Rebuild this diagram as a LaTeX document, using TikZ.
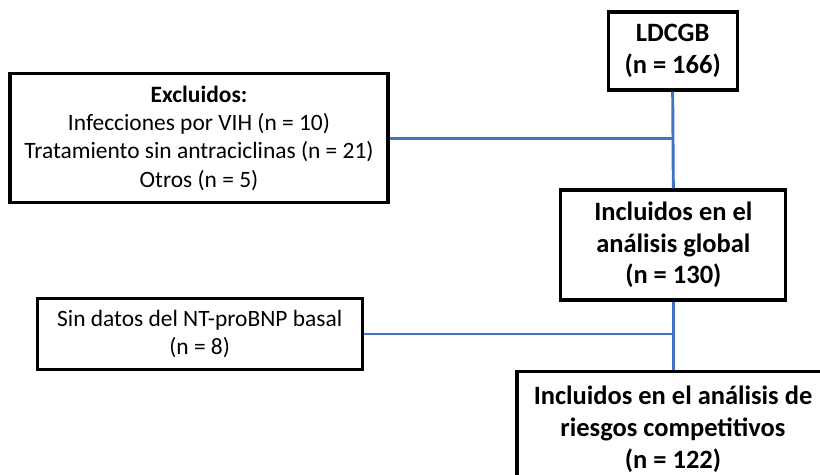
\documentclass[tikz,border=0pt]{standalone}
\usepackage{fontspec}
\setmainfont{Carlito}
\usepackage{tikz}
\usetikzlibrary{positioning}
\definecolor{linea}{RGB}{68,114,196}
\tikzset{
	caja/.style={draw=black, line width=2.8pt, align=center, inner sep=0pt, font=\fontsize{20}{24}\selectfont},
	cajab/.style={caja, font=\fontsize{22.6}{27}\selectfont\bfseries},
	enlace/.style={draw=linea, line width=2.5pt}
}

\begin{document}
\begin{tikzpicture}
			% Boxes and connectors:
			\clip (0, 0) rectangle (24.6, 14.22);
			\node[cajab, minimum width=3.87cm, minimum height=2.34cm](N1) at (20.18, 12.69){LDCGB\\(n = 166)};
			\node[caja, minimum width=11.34cm, minimum height=3.87cm](N2) at (5.97, 10.07){\textbf{Excluidos:}\\Infecciones por VIH (n = 10)\\Tratamiento sin antraciclinas (n = 21)\\Otros (n = 5)};
			\node[cajab, minimum width=6.75cm, minimum height=3.3cm](N3) at (20.2, 6.87){Incluidos en el\\análisis global\\(n = 130)};
			\node[caja, minimum width=9.75cm, minimum height=2.13cm](N4) at (5.99, 4.2){Sin datos del NT-proBNP basal\\(n = 8)};
			\node[cajab, minimum width=9.36cm, minimum height=3.45cm, anchor=north](N5) at (20.19, 3.12){Incluidos en el análisis de\\riesgos competitivos\\(n = 122)};
			\draw[enlace] (N1.south) -- (N3.north);
			\draw[enlace] (N3.south) -- (N3.south |- N5.north);
			\draw[enlace] (N2.east) -- (N2.east -| N1.south);
			\draw[enlace] (N4.east) -- (N4.east -| N3.south);
		\end{tikzpicture}
\end{document}
